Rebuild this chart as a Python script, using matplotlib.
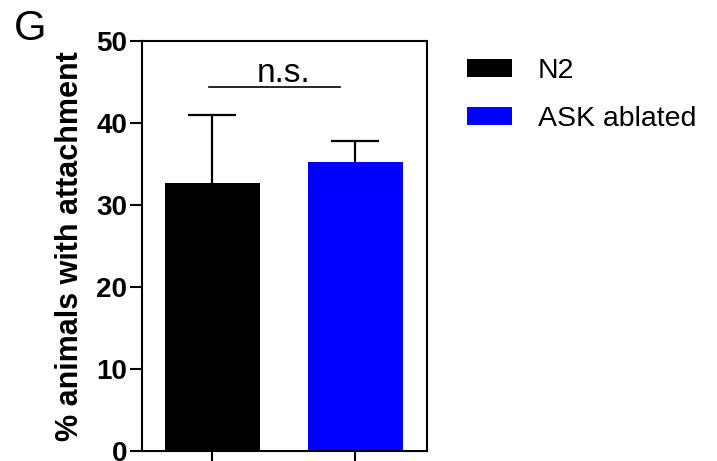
import matplotlib
matplotlib.use("Agg")
import matplotlib.pyplot as plt
from matplotlib.patches import Patch

plt.rcParams['font.family'] = ['Liberation Sans', 'DejaVu Sans']

groups = ["N2", "ASK ablated"]
means = [32.7, 35.2]
errors_upper = [8.3, 2.6]
colors = ["#000000", "#0000ff"]
yticks = [0, 10, 20, 30, 40, 50]
sig_label = "n.s."
sig_height = 44.4
ylabel = "% animals with attachment"
panel = "G"

fig = plt.figure(figsize=(7.17, 4.61), dpi=100)
ax = fig.add_axes([0.198, 0.0217, 0.3975, 0.889])

x = list(range(len(groups)))
ax.bar(x, means, width=0.664, color=colors, edgecolor="none", zorder=2)
_, caps, _ = ax.errorbar(x, means, yerr=[[0] * len(means), errors_upper], fmt="none",
                         ecolor="black", elinewidth=1.6, capsize=17, capthick=1.6,
                         zorder=1)
# only the upper whisker is shown
caps[0].set_visible(False)

ax.set_xlim(-0.493, 1.5)
ax.set_ylim(0, 50)
ax.set_yticks(yticks)
ax.set_yticklabels([str(t) for t in yticks], fontsize=20, fontweight="bold")
ax.set_xticks(x)
ax.set_xticklabels([])
ax.tick_params(axis="y", direction="out", length=8.6, width=1.5, pad=2)
ax.tick_params(axis="x", direction="out", length=8, width=1.5)
for s in ax.spines.values():
    s.set_linewidth(1.5)

ax.set_ylabel(ylabel, fontsize=22, fontweight="bold", labelpad=8)

# significance bar between the two groups
ax.plot([-0.025, 0.895], [sig_height, sig_height], color="black", lw=1.2)
ax.text(0.5, 45.0, sig_label, ha="center", va="baseline", fontsize=24)

fig.text(0.042, 0.938, panel, fontsize=30, ha="center", va="center")

handles = [Patch(facecolor=c, edgecolor="none") for c in colors]
fig.legend(handles, groups, loc="upper left", bbox_to_anchor=(0.652, 0.875),
           frameon=False, fontsize=20.5, handlelength=1.58, handleheight=0.6,
           handletextpad=0.9, labelspacing=0.78, borderpad=0, borderaxespad=0)

fig.savefig("out.png", dpi=100)
